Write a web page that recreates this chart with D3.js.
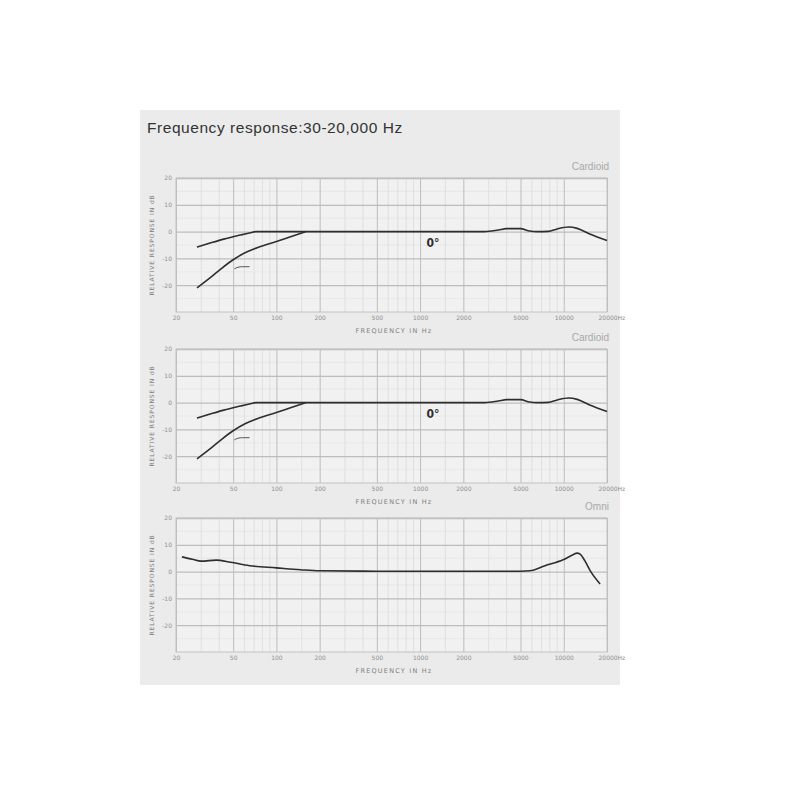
<!DOCTYPE html>
<html>
<head>
<meta charset="utf-8">
<script src="https://cdn.jsdelivr.net/npm/d3@7"></script>
<style>
  html, body { margin: 0; padding: 0; background: #ffffff; }
  svg { display: block; }
</style>
</head>
<body>
<svg id="chart" width="800" height="800"></svg>
<script>
// ---------- DATA ----------
const titleText = "Frequency response:30-20,000 Hz";
const panelLabels = ["Cardioid", "Cardioid", "Omni"];
const xTickValues = [20, 50, 100, 200, 500, 1000, 2000, 5000, 10000, 20000];
const xTickLabels = ["20", "50", "100", "200", "500", "1000", "2000", "5000", "10000", "20000Hz"];
const yTickValues = [20, 10, 0, -10, -20];
const yTickLabels = ["20", "10", "0", "-10", "-20"];

// Cardioid: upper curve (0° on-axis, low-cut flat)
const cardUpperFreq = [28, 35, 43, 56, 65, 72, 100, 200, 500, 1000, 2000, 2800, 3500, 4000, 5000, 5800, 6500, 7800, 9000, 10800, 12400, 15000, 20000];
const cardUpperDb   = [-5.8, -4.2, -2.8, -1.3, -0.5, 0, 0, 0, 0, 0, 0, 0, 0.6, 1.1, 1.1, 0.2, 0, 0.1, 1.0, 1.7, 1.2, -0.8, -3.3];
// Cardioid: lower curve (low-cut engaged)
const cardLowerFreq = [28, 35, 42, 50, 60, 75, 100, 130, 160];
const cardLowerDb   = [-21, -17, -13.5, -10.5, -8, -5.8, -3.7, -1.6, 0];
// small marker stroke near lower curve
const markFreq = [51, 54, 58, 65];
const markDb   = [-13.9, -13.3, -13.1, -13.1];
// Omni curve
const omniFreq = [22, 26, 30, 38, 48, 65, 100, 147, 200, 500, 1000, 2000, 5000, 5800, 7400, 9900, 11500, 12400, 13000, 14000, 15500, 17900];
const omniDb   = [5.5, 4.6, 3.9, 4.3, 3.5, 2.2, 1.4, 0.7, 0.3, 0.15, 0.15, 0.15, 0.15, 0.3, 2.2, 4.4, 6.2, 6.9, 6.5, 4.1, -0.2, -4.6];

// ---------- LAYOUT ----------
const svg = d3.select("#chart");
const left = 176, right = 607, plotH = 134;
const tops = [178, 349, 518];

svg.append("rect").attr("x", 140).attr("y", 110).attr("width", 480).attr("height", 575).attr("fill", "#ebebeb");

svg.append("text").attr("x", 147).attr("y", 133)
  .attr("font-family", "Liberation Sans, Arial, sans-serif").attr("font-size", 15.5)
  .attr("letter-spacing", 0.55)
  .attr("fill", "#333333").text(titleText);

const x = d3.scaleLog().domain([20, 20000]).range([left, right]);
const minorX = [];
[10, 100, 1000, 10000].forEach(d => { for (let k = 1; k <= 9; k++) { const v = d * k; if (v > 20 && v < 20000 && !xTickValues.includes(v)) minorX.push(v); } });
[150, 1500].forEach(v => minorX.push(v));

const zip = (f, d) => f.map((v, i) => [v, d[i]]);
const panels = [
  { curves: [zip(cardUpperFreq, cardUpperDb), zip(cardLowerFreq, cardLowerDb)], mark: zip(markFreq, markDb), angle: true },
  { curves: [zip(cardUpperFreq, cardUpperDb), zip(cardLowerFreq, cardLowerDb)], mark: zip(markFreq, markDb), angle: true },
  { curves: [zip(omniFreq, omniDb)], mark: null, angle: false }
];

panels.forEach((p, i) => {
  const top = tops[i], bottom = top + plotH;
  const y = d3.scaleLinear().domain([-30, 20]).range([bottom, top]);
  const g = svg.append("g");

  g.append("rect").attr("x", left).attr("y", top).attr("width", right - left).attr("height", plotH).attr("fill", "#f1f1f1");

  // minor grid
  g.selectAll(".mx").data(minorX).join("line")
    .attr("x1", d => x(d)).attr("x2", d => x(d)).attr("y1", top).attr("y2", bottom)
    .attr("stroke", "#d9d9d9").attr("stroke-width", 0.7);
  g.selectAll(".my").data([15, 5, -5, -15, -25]).join("line")
    .attr("x1", left).attr("x2", right).attr("y1", d => y(d)).attr("y2", d => y(d))
    .attr("stroke", "#e0e0e0").attr("stroke-width", 0.6);

  // major grid via axes
  const xa = d3.axisBottom(x).tickValues(xTickValues).tickSize(-plotH).tickPadding(4)
    .tickFormat((d, j) => xTickLabels[j]);
  const gx = g.append("g").attr("transform", `translate(0,${bottom})`).call(xa);
  gx.select(".domain").remove();
  gx.selectAll("line").attr("stroke", "#bdbdbd").attr("stroke-width", 1);
  gx.selectAll("text").attr("fill", "#8f8f8f").attr("font-size", 6)
    .attr("font-family", "DejaVu Sans, sans-serif");
  gx.selectAll("text").filter((d) => d === 20000).attr("text-anchor", "start").attr("dx", -9);

  const ya = d3.axisLeft(y).tickValues(yTickValues).tickSize(-(right - left)).tickPadding(4)
    .tickFormat((d, j) => yTickLabels[j]);
  const gy = g.append("g").attr("transform", `translate(${left},0)`).call(ya);
  gy.select(".domain").remove();
  gy.selectAll("line").attr("stroke", "#bdbdbd").attr("stroke-width", 1.3);
  gy.selectAll("text").attr("fill", "#8f8f8f").attr("font-size", 6)
    .attr("font-family", "DejaVu Sans, sans-serif");

  // border
  g.append("rect").attr("x", left).attr("y", top).attr("width", right - left).attr("height", plotH)
    .attr("fill", "none").attr("stroke", "#c2c2c2").attr("stroke-width", 1);

  // axis titles
  g.append("text").attr("x", 394).attr("y", bottom + 21).attr("text-anchor", "middle")
    .attr("font-family", "DejaVu Sans, sans-serif").attr("font-size", 6.5).attr("letter-spacing", 1.2)
    .attr("fill", "#7e7e7e").text("FREQUENCY IN Hz");
  g.append("text").attr("transform", `translate(154,${top + plotH / 2}) rotate(-90)`).attr("text-anchor", "middle")
    .attr("font-family", "DejaVu Sans, sans-serif").attr("font-size", 6).attr("letter-spacing", 0.9)
    .attr("fill", "#7e7e7e").text("RELATIVE RESPONSE IN dB");

  g.append("text").attr("x", 609).attr("y", top - 8).attr("text-anchor", "end")
    .attr("font-family", "Liberation Sans, Arial, sans-serif").attr("font-size", 10)
    .attr("fill", "#a8a8a8").text(panelLabels[i]);

  const line = d3.line().x(d => x(d[0])).y(d => y(d[1])).curve(d3.curveMonotoneX);
  p.curves.forEach(c => {
    g.append("path").datum(c).attr("d", line).attr("fill", "none")
      .attr("stroke", "#2e2e2e").attr("stroke-width", 1.6).attr("stroke-linejoin", "round");
  });
  if (p.mark) {
    g.append("path").datum(p.mark).attr("d", line).attr("fill", "none")
      .attr("stroke", "#555").attr("stroke-width", 1);
  }
  if (p.angle) {
    g.append("text").attr("x", 433).attr("y", y(-5.8)).attr("text-anchor", "middle")
      .attr("font-family", "DejaVu Sans Condensed, DejaVu Sans, sans-serif").attr("font-size", 12).attr("font-weight", "bold")
      .attr("fill", "#2e2e2e").text("0°");
  }
});
</script>
</body>
</html>
